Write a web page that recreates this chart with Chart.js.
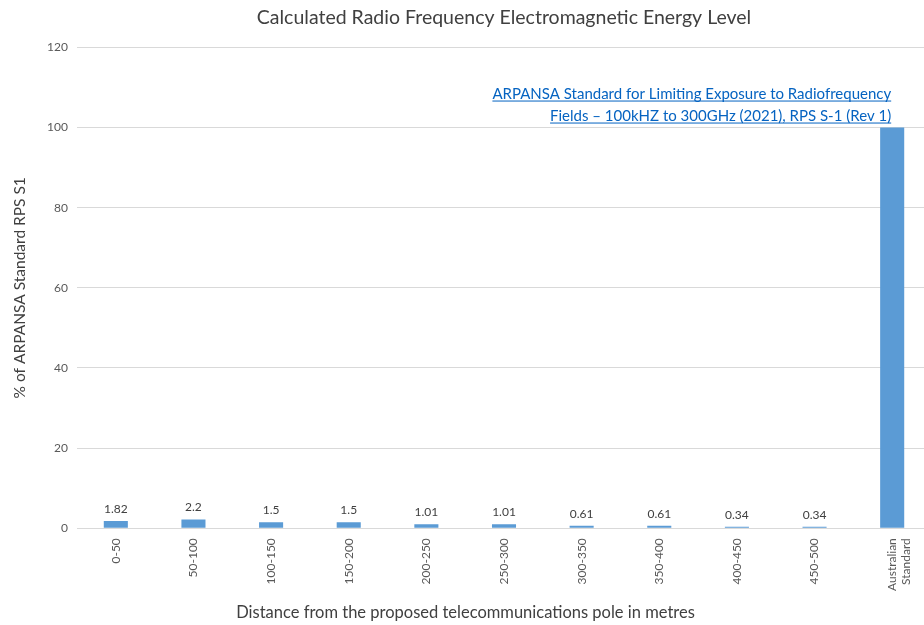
<!DOCTYPE html>
<html>
<head>
<meta charset="utf-8">
<script src="https://cdn.jsdelivr.net/npm/chart.js@4.4.1/dist/chart.umd.min.js"></script>
<style>
  html, body { margin: 0; padding: 0; background: #fff; overflow: hidden; }
  #wrap { width: 931px; height: 625px; }
</style>
</head>
<body>
<div id="wrap"><canvas id="chart" width="931" height="625"></canvas></div>
<script>
// chart data
const distances = ['0-50', '50-100', '100-150', '150-200', '200-250', '250-300',
    '300-350', '350-400', '400-450', '450-500', ['Australian', 'Standard']];
const energyLevels = [1.82, 2.2, 1.5, 1.5, 1.01, 1.01, 0.61, 0.61, 0.34, 0.34, 100];
const showValueLabel = [true, true, true, true, true, true, true, true, true, true, false];
const yTicks = [0, 20, 40, 60, 80, 100, 120];
const noteLines = [
    'ARPANSA Standard for Limiting Exposure to Radiofrequency',
    'Fields \u2013 100kHZ to 300GHz (2021), RPS S-1 (Rev 1)'
];

const FONT = 'Lato, Calibri, "Open Sans", sans-serif';

// value labels above bars
const valueLabels = {
    id: 'valueLabels',
    afterDatasetsDraw(chart) {
        const ctx = chart.ctx;
        const meta = chart.getDatasetMeta(0);
        ctx.save();
        ctx.font = '12px ' + FONT;
        ctx.fillStyle = '#404040';
        ctx.textAlign = 'center';
        ctx.textBaseline = 'bottom';
        meta.data.forEach((bar, i) => {
            if (!showValueLabel[i]) return;
            ctx.fillText(String(energyLevels[i]), bar.x, bar.y - 6);
        });
        ctx.restore();
    }
};

// hyperlink style note over the standard bar
const standardNote = {
    id: 'standardNote',
    afterDraw(chart) {
        const ctx = chart.ctx;
        const meta = chart.getDatasetMeta(0);
        const last = meta.data[meta.data.length - 1];
        const yScale = chart.scales.y;
        const right = last.x - 1;
        const base = yScale.getPixelForValue(100) - 7;
        ctx.save();
        ctx.font = '15px ' + FONT;
        ctx.fillStyle = '#0563C1';
        ctx.textAlign = 'right';
        ctx.textBaseline = 'alphabetic';
        noteLines.forEach((line, i) => {
            const y = base - (noteLines.length - 1 - i) * 22;
            ctx.fillText(line, right, y);
            const w = ctx.measureText(line).width;
            ctx.fillRect(right - w, y + 2, w, 1);
        });
        ctx.restore();
    }
};

new Chart(document.getElementById('chart'), {
    type: 'bar',
    data: {
        labels: distances,
        datasets: [{
            data: energyLevels,
            backgroundColor: '#5B9BD5',
            borderWidth: 0,
            categoryPercentage: 1,
            barPercentage: 0.31
        }]
    },
    options: {
        responsive: false,
        animation: false,
        layout: { padding: 0 },
        plugins: {
            legend: { display: false },
            tooltip: { enabled: false },
            title: {
                display: true,
                text: 'Calculated Radio Frequency Electromagnetic Energy Level',
                fullSize: false,
                color: '#404040',
                font: { family: FONT, size: 19.5, weight: 'normal' },
                padding: { top: 6, bottom: 18 }
            },
            subtitle: {
                display: true,
                position: 'bottom',
                text: 'Distance from the proposed telecommunications pole in metres',
                color: '#404040',
                font: { family: FONT, size: 16.5, weight: 'normal' },
                padding: { top: 0, bottom: 2 }
            }
        },
        scales: {
            x: {
                grid: { display: false, drawTicks: false },
                border: { display: true, color: '#D9D9D9', width: 1 },
                ticks: {
                    autoSkip: false,
                    minRotation: 90,
                    maxRotation: 90,
                    padding: 10,
                    color: '#595959',
                    font: { family: FONT, size: 12 }
                },
                afterFit(scale) { scale.height = 75; }
            },
            y: {
                min: 0,
                max: 120,
                afterBuildTicks(scale) { scale.ticks = yTicks.map(v => ({ value: v })); },
                grid: { color: '#D9D9D9', drawTicks: false },
                border: { display: false },
                ticks: {
                    padding: 9,
                    color: '#595959',
                    font: { family: FONT, size: 12 }
                },
                title: {
                    display: true,
                    text: '% of ARPANSA Standard RPS S1',
                    color: '#404040',
                    font: { family: FONT, size: 15.5 },
                    padding: { top: 11, bottom: 0 }
                },
                afterFit(scale) { scale.width = 77; }
            }
        }
    },
    plugins: [valueLabels, standardNote]
});
</script>
</body>
</html>
